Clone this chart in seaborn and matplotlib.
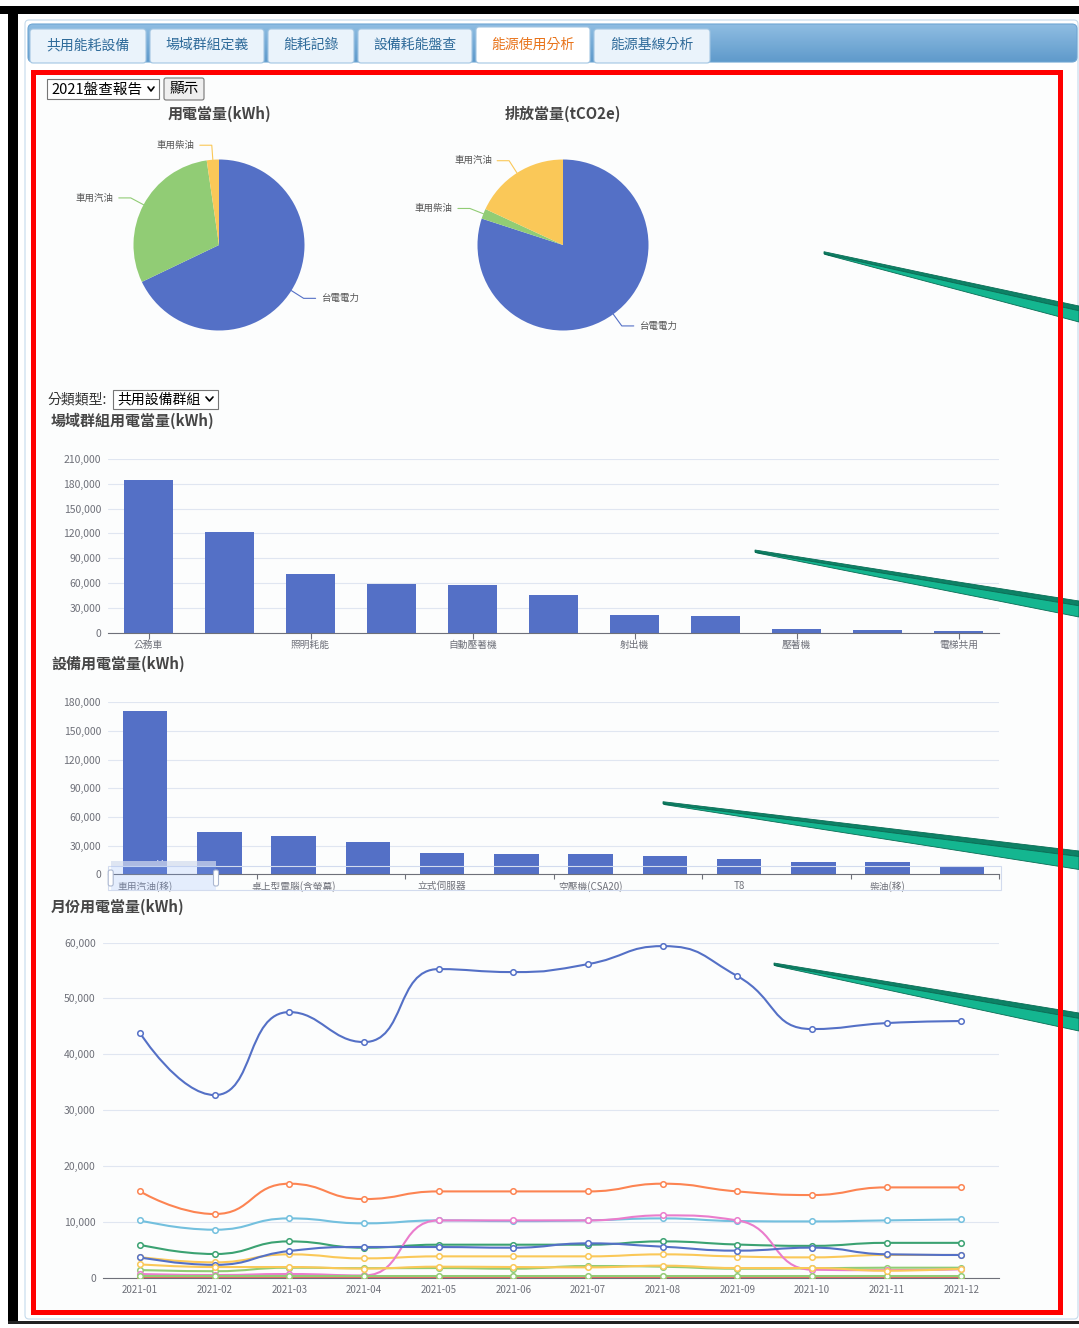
import math
import matplotlib
matplotlib.use("Agg")
import numpy as np
import pandas as pd
import matplotlib.pyplot as plt
import seaborn as sns
from matplotlib.patches import Rectangle, FancyBboxPatch, Polygon, PathPatch
from matplotlib.path import Path

# ---------------- page text ----------------
tabs = ["共用能耗設備", "場域群組定義", "能耗記錄", "設備耗能盤查", "能源使用分析", "能源基線分析"]
active_tab = "能源使用分析"
report_choice = "2021盤查報告"
show_button = "顯示"
group_type_label = "分類類型:"
group_type_choice = "共用設備群組"

# ---------------- pie: energy use ----------------
energy_title = "用電當量(kWh)"
energy_sources = ["台電電力", "車用汽油", "車用柴油"]
energy_share = [67.9, 29.8, 2.3]

# ---------------- pie: emissions ----------------
emission_title = "排放當量(tCO2e)"
emission_sources = ["台電電力", "車用柴油", "車用汽油"]
emission_share = [80.0, 1.9, 18.1]

# ---------------- bars: site groups ----------------
group_title = "場域群組用電當量(kWh)"
group_kwh = [184600, 122100, 70600, 59200, 57300, 45200, 21800, 19800, 4100, 3300, 2000]
group_labels = ["公務車", "", "照明耗能", "", "自動壓著機", "", "射出機", "", "壓著機", "", "電梯共用"]

# ---------------- bars: devices ----------------
device_title = "設備用電當量(kWh)"
device_kwh = [170900, 43950, 40100, 33500, 22300, 21600, 21560, 18840, 16330, 13190, 12870, 8370]
device_labels = ["車用汽油(移)", "", "桌上型電腦(含螢幕)", "", "立式伺服器", "", "空壓機(CSA20)", "",
                 "T8", "", "柴油(移)", ""]

# ---------------- lines: monthly ----------------
monthly_title = "月份用電當量(kWh)"
months = ["2021-01", "2021-02", "2021-03", "2021-04", "2021-05", "2021-06",
          "2021-07", "2021-08", "2021-09", "2021-10", "2021-11", "2021-12"]
monthly_total = [43800, 32700, 47560, 42190, 55260, 54720, 56150, 59370, 54000, 44520, 45590, 45950]
monthly_s2 = [1370, 1160, 1790, 1700, 1730, 1610, 2090, 1970, 1610, 1670, 1790, 1790]
monthly_s3 = [3700, 2750, 4180, 3460, 3820, 3820, 3820, 4180, 3790, 3640, 4070, 4070]
monthly_s4 = [60, 60, 60, 60, 60, 60, 60, 60, 60, 60, 60, 60]
monthly_s5 = [10260, 8590, 10620, 9730, 10260, 10140, 10260, 10620, 10140, 10080, 10260, 10440]
monthly_s6 = [5910, 4240, 6500, 5370, 5910, 5910, 5910, 6500, 5940, 5700, 6240, 6240]
monthly_s7 = [15450, 11400, 16830, 14080, 15450, 15450, 15450, 16830, 15450, 14800, 16170, 16170]
monthly_s9 = [660, 480, 660, 400, 10260, 10260, 10260, 11160, 10260, 1430, 1350, 1500]
monthly_s10 = [3650, 2300, 4780, 5500, 5490, 5370, 6150, 5550, 4840, 5380, 4190, 4070]
monthly_s11 = [300, 300, 300, 300, 300, 300, 300, 300, 300, 300, 300, 300]
monthly_s12 = [2390, 1910, 1910, 1640, 1970, 1910, 1850, 2150, 1730, 1730, 1250, 1610]

PALETTE = ["#5470c6", "#91cc75", "#fac858", "#ee6666", "#73c0de", "#3ba272", "#fc8452", "#9a60b4", "#ea7ccc"]
monthly_series = [
    (monthly_total, PALETTE[0]), (monthly_s2, PALETTE[1]), (monthly_s3, PALETTE[2]),
    (monthly_s4, PALETTE[3]), (monthly_s5, PALETTE[4]), (monthly_s6, PALETTE[5]),
    (monthly_s7, PALETTE[6]), (monthly_s9, PALETTE[8]), (monthly_s10, PALETTE[0]),
    (monthly_s11, PALETTE[1]), (monthly_s12, PALETTE[2]),
]

# ---------------- style ----------------
sns.set_theme(style="white")
plt.rcParams["font.family"] = ["Noto Sans CJK TC", "DejaVu Sans"]
plt.rcParams["axes.unicode_minus"] = False

W, H = 1079, 1328
GRID = "#e0e6f1"
AXIS = "#6e7079"
TICK = "#6e7079"
TITLE = "#464646"
BAR = "#5470c6"

fig = plt.figure(figsize=(W / 100, H / 100), dpi=100)
fig.patch.set_facecolor("white")


def px_axes(x0, y0, x1, y1, z=2):
    ax = fig.add_axes([x0 / W, 1 - y1 / H, (x1 - x0) / W, (y1 - y0) / H])
    ax.set_zorder(z)
    return ax


back = px_axes(0, 0, W, H, z=0)
back.set_xlim(0, W)
back.set_ylim(H, 0)
back.axis("off")

front = px_axes(0, 0, W, H, z=10)
front.set_xlim(0, W)
front.set_ylim(H, 0)
front.axis("off")

# ---------------- page frame ----------------
back.add_patch(Rectangle((0, 6), W, 8, color="black", lw=0))
back.add_patch(Rectangle((8, 6), 10, 1316, color="black", lw=0))
back.add_patch(Rectangle((8, 1321), W - 8, 2.5, color="#222222", lw=0))
back.add_patch(FancyBboxPatch((25, 20), 1053, 1299, boxstyle="round,pad=0,rounding_size=4",
                              fc="white", ec="#c5dbec", lw=0.8))

# tab header with vertical gradient
header = FancyBboxPatch((28, 24), 1049, 38, boxstyle="round,pad=0,rounding_size=5",
                        fc="none", ec="#6fa6d3", lw=0.8, zorder=2)
back.add_patch(header)
grad = np.linspace(0, 1, 64)[:, None]
top_c = np.array(matplotlib.colors.to_rgb("#8fbde2"))
bot_c = np.array(matplotlib.colors.to_rgb("#5f9acb"))
img = top_c[None, None, :] * (1 - grad[..., None]) + bot_c[None, None, :] * grad[..., None]
im = back.imshow(img, extent=(28, 1077, 62, 24), aspect="auto", zorder=1, interpolation="bilinear")
im.set_clip_path(header)
back.set_xlim(0, W)
back.set_ylim(H, 0)

tab_edges = [(30, 146), (150, 264), (268, 354), (358, 472), (476, 590), (594, 710)]
for name, (x0, x1) in zip(tabs, tab_edges):
    is_active = name == active_tab
    y0 = 27 if is_active else 29
    back.add_patch(FancyBboxPatch((x0, y0), x1 - x0, 63 - y0, boxstyle="round,pad=0,rounding_size=3",
                                  fc="white" if is_active else "#eaf3fb", ec="#a3c6e3", lw=0.8, zorder=3))
    back.text((x0 + x1) / 2, 45, name, ha="center", va="center", fontsize=10, zorder=4,
              color="#e8731a" if is_active else "#2f6b9a")

# content panel with red outline
back.add_patch(Rectangle((33, 71.5), 1026.5, 1240, fc="#fcfdfd", ec="none"))
front.add_patch(Rectangle((33, 71.5), 1026.5, 1240, fc="none", ec="#ff0000", lw=3.6, zorder=3))

# report selector and button
front.add_patch(Rectangle((47, 79), 112, 20, fc="white", ec="#767676", lw=0.8))
front.text(51, 89.5, report_choice, ha="left", va="center", fontsize=10.5, color="black")
front.plot([148, 151, 154], [87, 91, 87], color="black", lw=1.2)
front.add_patch(FancyBboxPatch((164, 78), 40, 22, boxstyle="round,pad=0,rounding_size=2",
                               fc="#efefef", ec="#767676", lw=0.8))
front.text(184, 89.5, show_button, ha="center", va="center", fontsize=10.5, color="black")

# group type selector
front.text(48, 399.5, group_type_label, ha="left", va="center", fontsize=10, color="#333333")
front.add_patch(Rectangle((113, 390), 105, 19, fc="white", ec="#767676", lw=0.8))
front.text(117, 399.5, group_type_choice, ha="left", va="center", fontsize=10, color="black")
front.plot([206, 209.5, 213], [397, 401, 397], color="black", lw=1.2)

# ---------------- pies ----------------
def draw_pie(cx, cy, r, title, labels, shares, colors):
    half = 150
    ax = px_axes(cx - half, cy - half, cx + half, cy + half, z=2)
    ax.pie(shares, colors=colors, startangle=90, counterclock=False, radius=1,
           wedgeprops=dict(linewidth=0))
    lim = half / r
    ax.set_xlim(-lim, lim)
    ax.set_ylim(-lim, lim)
    ax.set_aspect("equal")
    ax.axis("off")
    total = float(sum(shares))
    start = 0.0
    for lab, s, c in zip(labels, shares, colors):
        mid = (start + s / 2) / total * 2 * math.pi
        start += s
        dx, dy = math.sin(mid), math.cos(mid)
        side = 1 if dx >= 0 else -1
        p1 = (dx * 1.17, dy * 1.17)
        p2 = (p1[0] + side * 0.14, p1[1])
        ax.plot([dx, p1[0], p2[0]], [dy, p1[1], p2[1]], color=c, lw=0.8, clip_on=False)
        ax.text(p2[0] + side * 0.06, p2[1], lab, ha="left" if side > 0 else "right", va="center",
                fontsize=6.8, color="#555555")
    front.text(cx, 114, title, ha="center", va="center", fontsize=10.8, fontweight="bold", color=TITLE)


draw_pie(219, 245, 85.5, energy_title, energy_sources, energy_share, [PALETTE[0], PALETTE[1], PALETTE[2]])
draw_pie(563, 245, 85.5, emission_title, emission_sources, emission_share, [PALETTE[0], PALETTE[1], PALETTE[2]])


# ---------------- value axis styling ----------------
def style_value_axis(ax, ymax, step, n):
    ax.set_xlim(-0.5, n - 0.5)
    ax.set_ylim(0, ymax)
    ticks = list(range(0, ymax + 1, step))
    ax.set_yticks(ticks)
    ax.set_yticklabels([f"{t:,}" for t in ticks])
    ax.yaxis.grid(True, color=GRID, lw=0.8)
    ax.xaxis.grid(False)
    ax.set_axisbelow(True)
    for s in ["left", "right", "top"]:
        ax.spines[s].set_visible(False)
    ax.spines["bottom"].set_color(AXIS)
    ax.spines["bottom"].set_linewidth(0.8)
    ax.tick_params(axis="y", left=False, length=0, labelsize=7.5, labelcolor=TICK, pad=5)
    ax.set_xlabel("")
    ax.set_ylabel("")
    ax.patch.set_alpha(0)


# ---------------- bars: site groups ----------------
front.text(51, 420.5, group_title, ha="left", va="center", fontsize=10.8, fontweight="bold", color=TITLE)
ax1 = px_axes(108, 459, 999, 632.7, z=2)
df1 = pd.DataFrame({"idx": range(len(group_kwh)), "kwh": group_kwh})
sns.barplot(data=df1, x="idx", y="kwh", color=BAR, saturation=1, width=0.6, linewidth=0, ax=ax1)
style_value_axis(ax1, 210000, 30000, len(group_kwh))
shown = [i for i, l in enumerate(group_labels) if l]
ax1.set_xticks(shown)
ax1.set_xticklabels([group_labels[i] for i in shown])
ax1.tick_params(axis="x", bottom=True, length=4, width=0.8, color=AXIS, labelsize=7,
                labelcolor=TICK, pad=1.5)

# ---------------- bars: devices ----------------
front.text(51, 663.5, device_title, ha="left", va="center", fontsize=10.8, fontweight="bold", color=TITLE)
ax2 = px_axes(108, 702.3, 999, 874.3, z=2)
df2 = pd.DataFrame({"idx": range(len(device_kwh)), "kwh": device_kwh})
sns.barplot(data=df2, x="idx", y="kwh", color=BAR, saturation=1, width=0.6, linewidth=0, ax=ax2)
style_value_axis(ax2, 180000, 30000, len(device_kwh))
shown2 = [i for i, l in enumerate(device_labels) if l]
ax2.set_xticks(shown2)
ax2.set_xticklabels([device_labels[i] for i in shown2])
ax2.set_xticks([i + 1.5 for i in shown2], minor=True)
ax2.tick_params(axis="x", which="major", bottom=True, length=0, labelsize=7, labelcolor=TICK, pad=5)
ax2.tick_params(axis="x", which="minor", bottom=True, length=3.5, width=0.8, color=AXIS)

# zoom slider under the device chart
front.add_patch(Rectangle((108, 866), 893, 24, fc="none", ec="#d2dbee", lw=0.8, zorder=1))
front.add_patch(Rectangle((110.7, 866), 105.3, 24, fc="#87afff", alpha=0.2, ec="none", zorder=1))
front.add_patch(Rectangle((110.7, 861), 105.3, 5, fc="#d2dbee", alpha=0.7, ec="none", zorder=1))
front.text(163, 862.5, "···", ha="center", va="center", fontsize=4, color="#ffffff", zorder=1)
for hx in (110.7, 216):
    front.add_patch(FancyBboxPatch((hx - 2.5, 870), 5, 16, boxstyle="round,pad=0,rounding_size=2",
                                   fc="white", ec="#acb8d1", lw=0.8, zorder=1.2))


# ---------------- lines: monthly ----------------
def smooth_path(xs, ys, sx, sy, smooth=0.5):
    pts = [(x * sx, y * sy) for x, y in zip(xs, ys)]
    n = len(pts)
    verts = [pts[0]]
    codes = [Path.MOVETO]
    cp0 = pts[0]
    for i in range(1, n):
        x, y = pts[i]
        px, py = pts[i - 1]
        if i == n - 1:
            cp1 = (x, y)
            nxt = None
        else:
            nx, ny = pts[i + 1]
            vx, vy = nx - px, ny - py
            l0 = math.hypot(x - px, y - py)
            l1 = math.hypot(nx - x, ny - y)
            ratio = l1 / (l0 + l1)
            ncx = x + vx * smooth * ratio
            ncy = y + vy * smooth * ratio
            ncx = max(min(ncx, max(nx, x)), min(nx, x))
            ncy = max(min(ncy, max(ny, y)), min(ny, y))
            vx, vy = ncx - x, ncy - y
            c1x = x - vx * l0 / l1
            c1y = y - vy * l0 / l1
            c1x = max(min(c1x, max(px, x)), min(px, x))
            c1y = max(min(c1y, max(py, y)), min(py, y))
            vx, vy = x - c1x, y - c1y
            nxt = (x + vx * l1 / l0, y + vy * l1 / l0)
            cp1 = (c1x, c1y)
        verts += [cp0, cp1, (x, y)]
        codes += [Path.CURVE4] * 3
        cp0 = nxt
    return Path([(vx / sx, vy / sy) for vx, vy in verts], codes)


front.text(51, 906.5, monthly_title, ha="left", va="center", fontsize=10.8, fontweight="bold", color=TITLE)
line_box = (102.7, 942.6, 998.7, 1277.7)
ax3 = px_axes(*line_box, z=2)
style_value_axis(ax3, 60000, 10000, len(months))
x_unit = (line_box[2] - line_box[0]) / len(months)
y_unit = (line_box[3] - line_box[1]) / 60000
idx = np.arange(len(months))
for vals, col in monthly_series:
    ax3.add_patch(PathPatch(smooth_path(idx, vals, x_unit, y_unit), fc="none", ec=col, lw=1.5, zorder=2))
for vals, col in monthly_series:
    sns.scatterplot(x=idx, y=vals, ax=ax3, marker="o", s=16, color="white", edgecolor=col,
                    linewidth=1.1, zorder=3, legend=False)
ax3.set_xlim(-0.5, len(months) - 0.5)
ax3.set_ylim(0, 60000)
ax3.set_xticks(idx)
ax3.set_xticklabels(months)
ax3.tick_params(axis="x", bottom=True, length=0, labelsize=7, labelcolor=TICK, pad=5)
ax3.set_xlabel("")
ax3.set_ylabel("")

# ---------------- pointer ribbons ----------------
ribbons = [(824, 252.7, 306, 322), (755, 551, 601, 617), (663, 802.7, 851, 869.5), (774, 964, 1013, 1031)]
for tx, ty, top, bottom in ribbons:
    mid = top + (bottom - top) * 0.3
    front.add_patch(Polygon([(tx, ty - 1), (W, top), (W, mid), (tx, ty + 1)], closed=True,
                            fc="#0d8266", ec="#0a6d55", lw=0.6, zorder=1))
    front.add_patch(Polygon([(tx, ty + 1), (W, mid), (W, bottom), (tx + 2, ty + 2)], closed=True,
                            fc="#14b690", ec="#0a6d55", lw=0.6, zorder=1))

fig.savefig("out.png", dpi=100, facecolor="white")
